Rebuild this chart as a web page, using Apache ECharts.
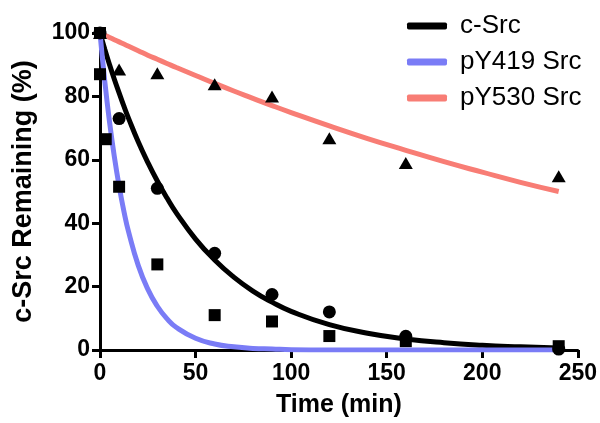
<!DOCTYPE html>
<html>
<head>
<meta charset="utf-8">
<script src="https://cdn.jsdelivr.net/npm/echarts@6/dist/echarts.min.js"></script>
<style>
  html, body { margin: 0; padding: 0; background: #fff; }
  #main { width: 600px; height: 423px; }
</style>
</head>
<body>
<div id="main"></div>
<script>
// fitted curves
const curveTime = [0, 2.5, 5, 7.5, 10, 12.5, 15, 20, 25, 30, 35, 40, 50, 60, 70, 80, 90, 100, 120, 140, 160, 180, 200, 220, 240];
const cSrcCurve = [100, 94.9, 90.0, 85.4, 81.1, 76.9, 73.0, 65.7, 59.2, 53.3, 48.0, 43.2, 35.0, 28.4, 23.0, 18.6, 15.1, 12.2, 8.0, 5.3, 3.5, 2.3, 1.5, 1.0, 0.6];
const pY419Curve = [100, 84.8, 71.9, 61.0, 51.7, 43.8, 37.2, 26.7, 19.2, 13.8, 9.9, 7.1, 3.7, 1.9, 1.0, 0.5, 0.3, 0.1, 0, 0, 0, 0, 0, 0, 0];
const pY530Curve = [100, 99.3, 98.6, 97.9, 97.2, 96.5, 95.8, 94.4, 93.0, 91.7, 90.4, 89.1, 86.6, 84.1, 81.7, 79.4, 77.1, 74.9, 70.7, 66.7, 63.0, 59.4, 56.1, 52.9, 50.0];

// measured points
const cSrcTime = [0, 10, 30, 60, 90, 120, 160, 240];
const cSrcValues = [100, 73, 51, 30.5, 17.5, 12, 4.3, 0.3];
const pY419Time = [0, 0, 3, 10, 30, 60, 90, 120, 160, 240];
const pY419Values = [100, 87, 66.5, 51.5, 27, 11, 9, 4.4, 2.8, 1.2];
const pY530Time = [0, 10, 30, 60, 90, 120, 160, 240];
const pY530Values = [100, 88.5, 87.3, 83.8, 80, 66.8, 59, 54.8];

const xTicks = [0, 50, 100, 150, 200, 250];
const yTicks = [0, 20, 40, 60, 80, 100];

const names = ['c-Src', 'pY419 Src', 'pY530 Src'];
const colors = ['#000000', '#7a7cf6', '#f87d75'];

const zip = (xs, ys) => xs.map((x, i) => [x, ys[i]]);

const chart = echarts.init(document.querySelector('#main'));

const font = 'Liberation Sans, Arial, Helvetica, sans-serif';

function curve(name, values, color) {
    return {
        name: name,
        type: 'line',
        data: zip(curveTime, values),
        showSymbol: false,
        smooth: true,
        lineStyle: { color: color, width: 5 },
        itemStyle: { color: color },
        z: 2
    };
}

function points(name, xs, ys, symbol, size) {
    return {
        name: name,
        type: 'scatter',
        data: zip(xs, ys),
        symbol: symbol,
        symbolSize: size,
        itemStyle: { color: '#000', opacity: 1 },
        z: 3
    };
}

const axisCommon = {
    type: 'value',
    axisLine: { show: true, lineStyle: { color: '#000', width: 3 } },
    axisTick: { show: true, length: 8, lineStyle: { color: '#000', width: 3 } },
    splitLine: { show: false },
    axisLabel: { fontFamily: font, fontWeight: 'bold', fontSize: 23, color: '#000' }
};

const option = {
    animation: false,
    backgroundColor: '#fff',
    grid: { left: 100, right: 22, top: 33, bottom: 72 },
    legend: {
        data: names,
        orient: 'vertical',
        left: 402,
        top: 8,
        itemWidth: 40,
        itemHeight: 7,
        itemGap: 10,
        icon: 'roundRect',
        textStyle: { fontFamily: font, fontSize: 26, color: '#000', padding: [0, 0, 0, 8] }
    },
    xAxis: Object.assign({}, axisCommon, {
        min: xTicks[0],
        max: xTicks[xTicks.length - 1],
        interval: xTicks[1] - xTicks[0],
        name: 'Time (min)',
        nameLocation: 'middle',
        nameGap: 43,
        nameTextStyle: { fontFamily: font, fontWeight: 'bold', fontSize: 25, color: '#000' },
        axisLabel: Object.assign({}, axisCommon.axisLabel, { margin: 12 })
    }),
    yAxis: Object.assign({}, axisCommon, {
        min: yTicks[0],
        max: yTicks[yTicks.length - 1],
        interval: yTicks[1] - yTicks[0],
        name: 'c-Src Remaining (%)',
        nameLocation: 'middle',
        nameGap: 63,
        nameTextStyle: { fontFamily: font, fontWeight: 'bold', fontSize: 27, color: '#000' },
        axisLabel: Object.assign({}, axisCommon.axisLabel, { margin: 10 })
    }),
    series: [
        curve(names[0], cSrcCurve, colors[0]),
        curve(names[1], pY419Curve, colors[1]),
        curve(names[2], pY530Curve, colors[2]),
        points('c-Src data', cSrcTime, cSrcValues, 'circle', 13),
        points('pY419 data', pY419Time, pY419Values, 'rect', 12),
        points('pY530 data', pY530Time, pY530Values, 'triangle', [14, 12])
    ]
};

chart.setOption(option);
</script>
</body>
</html>
